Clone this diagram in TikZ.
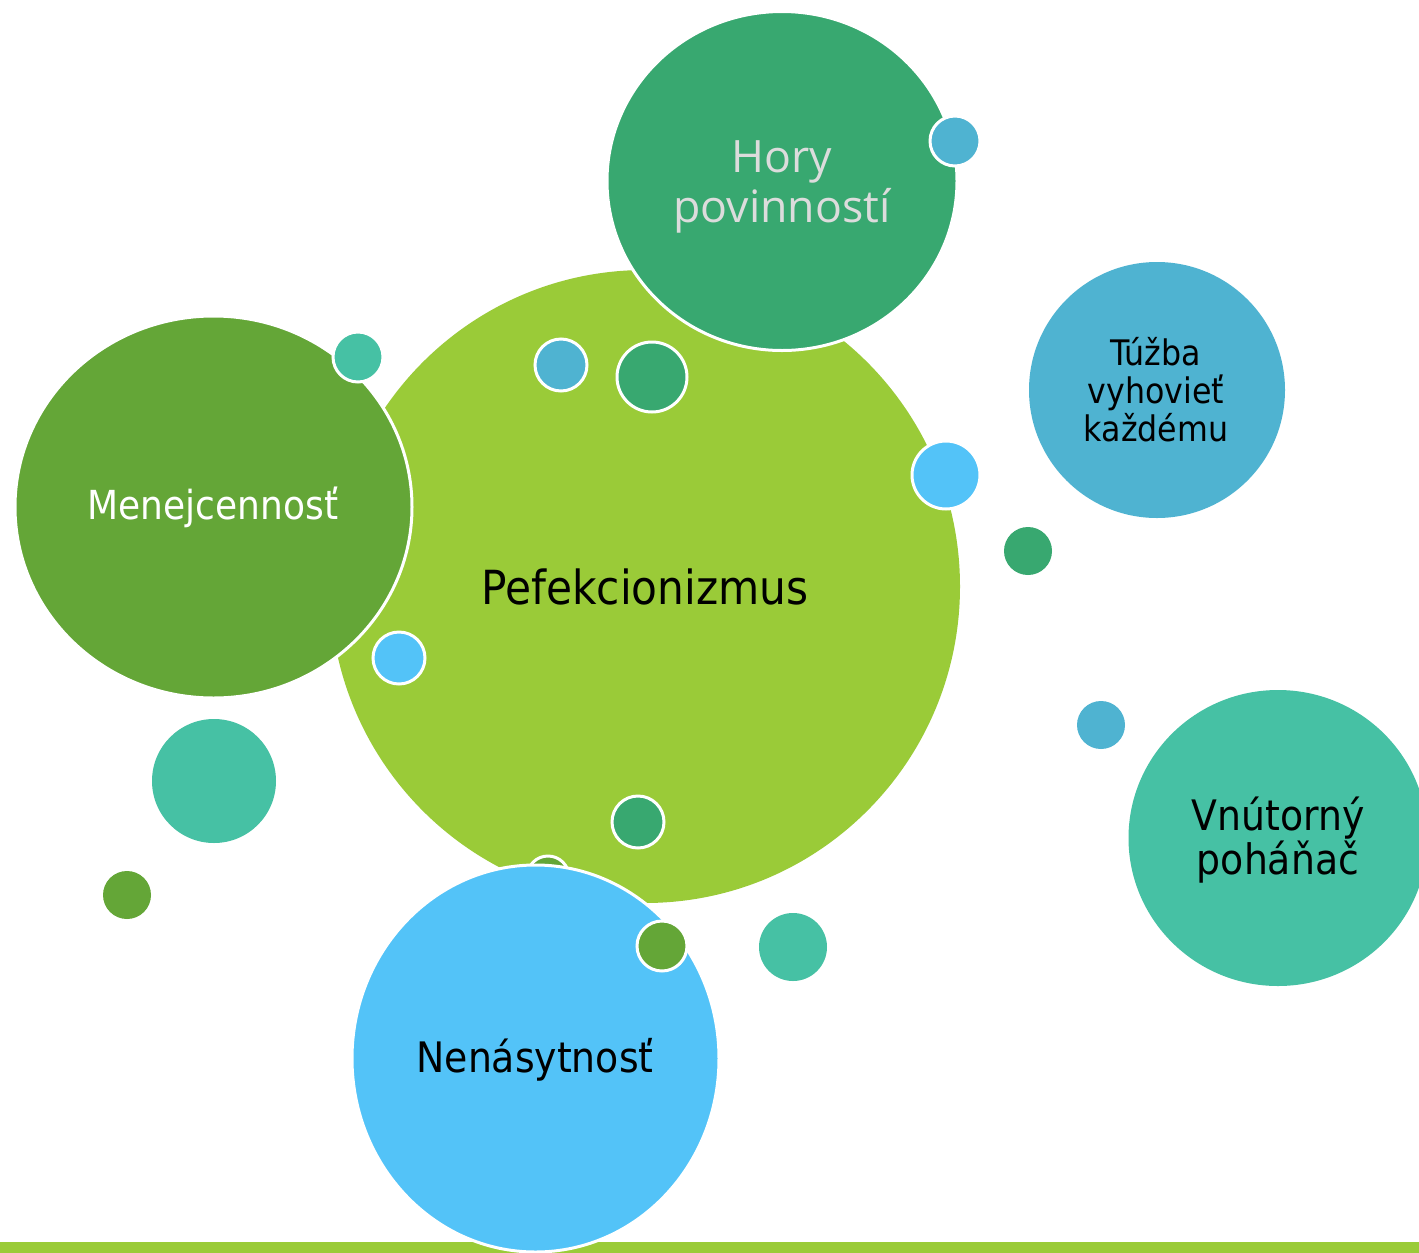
\documentclass[tikz,border=0pt]{standalone}
\usepackage{fontspec}
\usetikzlibrary{shapes.geometric}
\setmainfont{DejaVu Sans Condensed}
\newfontfamily\horyfont{Open Sans}
\definecolor{lime}{HTML}{9ACB38}
\definecolor{jade}{HTML}{38A870}
\definecolor{steel}{HTML}{4FB3D1}
\definecolor{leaf}{HTML}{64A637}
\definecolor{teal}{HTML}{46C1A4}
\definecolor{sky}{HTML}{53C3F8}
\definecolor{hazy}{HTML}{DCDCDC}
\tikzset{
  bubble/.style={circle, inner sep=0pt, minimum size=#1*0.5pt},
  oval/.style 2 args={ellipse, inner sep=0pt, minimum width=#1*0.5pt, minimum height=#2*0.5pt},
  ring/.style={draw=white, line width=1.5pt},
  label/.style={align=center, text=black},
}
\begin{document}
\begin{tikzpicture}[x=0.5pt, y=-0.5pt]
\useasboundingbox (0,0) rectangle (1419,1253);
\clip (0,0) rectangle (1419,1253);
\fill[white] (0,0) rectangle (1419,1253);

% footer band
\fill[lime] (0,1242) rectangle (1419,1253);

% central bubble
\node[oval={630}{633}, fill=lime] (perf) at (645,586.5) {};

% loose small bubbles
\node[bubble=48,  fill=jade]  (d1) at (1028,551) {};
\node[bubble=124, fill=teal]  (d2) at (214,781) {};
\node[bubble=48,  fill=leaf]  (d3) at (127,895) {};
\node[bubble=68,  fill=teal]  (d4) at (793,947) {};
\node[bubble=48,  fill=steel] (d5) at (1101,725) {};

% ringed small bubbles on the central one
\node[bubble=52, fill=steel, ring] (s1) at (561,365) {};
\node[bubble=70, fill=jade,  ring] (s2) at (652,377) {};
\node[bubble=68, fill=sky,   ring] (s3) at (946,475) {};
\node[bubble=52, fill=sky,   ring] (s4) at (399,658) {};
\node[bubble=52, fill=jade,  ring] (s5) at (638,822) {};
\node[bubble=42, fill=leaf,  ring] (s6) at (548,877) {};

% outer topic bubbles
\node[oval={350}{339}, fill=jade, ring] (hory) at (782,181) {};
\node[bubble=256, fill=steel] (tuzba) at (1157,390) {};
\node[oval={397}{382}, fill=leaf, ring] (menej) at (213.5,507) {};
\node[oval={299}{296}, fill=teal] (vnut) at (1278,838) {};
\node[oval={367}{387}, fill=sky, ring] (nenas) at (535.5,1058.5) {};

% ringed small bubbles on the topic bubbles
\node[bubble=50, fill=teal,  ring] (t1) at (358,357) {};
\node[bubble=50, fill=steel, ring] (t2) at (955,141) {};
\node[bubble=50, fill=leaf,  ring] (t3) at (662,946) {};

% texts
\node[label, font=\fontsize{23.5}{27}\selectfont] at (perf.center) {Pefekcionizmus};
\node[align=center, text=hazy, font=\horyfont\fontsize{22.3}{25}\selectfont] at (782,187) {Hory\\povinností};
\node[label, font=\fontsize{17.6}{19}\selectfont] at (1156,390) {Túžba\\vyhovieť\\každému};
\node[align=center, text=white, font=\fontsize{20}{22}\selectfont] at (213,507) {Menejcennosť};
\node[label, font=\fontsize{21}{22}\selectfont] at (1278,840) {Vnútorný\\poháňač};
\node[label, font=\fontsize{21}{24}\selectfont] at (535,1060) {Nenásytnosť};
\end{tikzpicture}
\end{document}
